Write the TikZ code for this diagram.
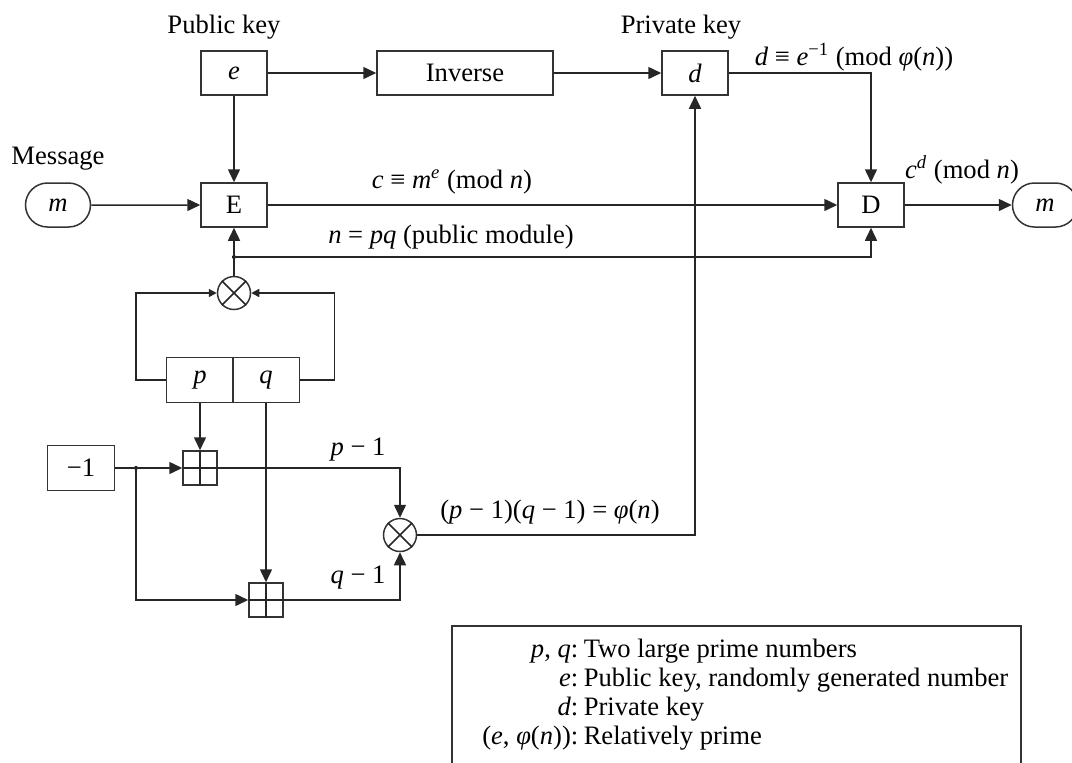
\documentclass[tikz,border=0pt]{standalone}
\usepackage{fontspec}
\setmainfont{Liberation Serif}
\usetikzlibrary{arrows.meta,shapes.misc}
\newcommand\vi[1]{\textit{#1}}

\begin{document}
\begin{tikzpicture}[x=0.5pt,y=-0.5pt,
  font=\fontsize{13.3}{16}\selectfont,
  line width=0.75pt, draw=black!85,
  every node/.style={inner sep=0pt},
  blk/.style={draw=black!80, minimum width=33pt, minimum height=22pt},
  term/.style={draw=black!80, rounded rectangle, minimum width=32.5pt, minimum height=22pt},
  mult/.style={draw=black!80, circle, minimum size=16.5pt},
  adder/.style={draw=black!80, minimum size=17pt},
  arr/.style={-{Triangle[length=6.5pt,width=6pt]}},
  sarr/.style={-{Triangle[length=4pt,width=4pt]}},
  jdot/.style={circle, fill=black, minimum size=2pt},
]
\useasboundingbox (0,0) rectangle (1072,762);

% key generation, top row
\node (pubkey) at (224,27) {Public key};
\node[blk] (e) at (234,73) {\vi{e}};
\node[blk, minimum width=88pt] (inv) at (465,73) {Inverse};
\node[blk] (d) at (695,73) {\vi{d}};
\node (privkey) at (681,27) {Private key};
\node (dlabel) at (854,57) {\vi{d} ≡ \vi{e}\textsuperscript{−1} (mod \vi{φ}(\vi{n}))};

% encryption / decryption row
\node (msg) at (58,159) {Message};
\node[term] (min) at (58,205) {\vi{m}};
\node[blk] (E) at (234,205) {E};
\node[blk] (D) at (871,205) {D};
\node[term] (mout) at (1045,205) {\vi{m}};
\node (clabel) at (452,182) {\vi{c} ≡ \vi{m}\textsuperscript{\vi{e}} (mod \vi{n})};
\node (nlabel) at (451,237) {\vi{n} = \vi{pq} (public module)};
\node (cdlabel) at (962,170) {\vi{c}\textsuperscript{\vi{d}} (mod \vi{n})};

% modulus n = pq
\node[mult] (mul1) at (234,293) {};
\draw (mul1.north east) -- (mul1.south west) (mul1.north west) -- (mul1.south east);
\node[blk, minimum width=33.5pt, minimum height=22.5pt] (p) at (200,380) {\vi{p}};
\node[blk, minimum width=33.5pt, minimum height=22.5pt] (q) at (266,380) {\vi{q}};
\coordinate (ndot) at (234,257);
\node[jdot] (ndotmark) at (ndot) {};

% phi(n) = (p-1)(q-1)
\node[blk, minimum width=33.5pt, minimum height=22.5pt] (m1) at (81,468) {−1};
\node[adder] (add1) at (200,468) {};
\draw (add1.north) -- (add1.south) (add1.west) -- (add1.east);
\node[adder] (add2) at (266,600) {};
\draw (add2.north) -- (add2.south) (add2.west) -- (add2.east);
\node[mult] (mul2) at (400,535) {};
\draw (mul2.north east) -- (mul2.south west) (mul2.north west) -- (mul2.south east);
\coordinate (jn) at (136,468);
\node[jdot] (jnmark) at (jn) {};
\node (pm1) at (358,450) {\vi{p} − 1};
\node (qm1) at (358,578) {\vi{q} − 1};
\node (philabel) at (550,512) {(\vi{p} − 1)(\vi{q} − 1) = \vi{φ}(\vi{n})};

% connectors
\draw[arr] (e) -- (inv);
\draw[arr] (inv) -- (d);
\draw[arr] (e) -- (E);
\draw[arr] (min) -- (E);
\draw[arr] (E) -- (D);
\draw[arr] (d.east) -| (D.north);
\draw[arr] (D) -- (mout);
\draw[arr] (mul1) -- (E);
\draw[arr] (ndot) -| (D.south);
\draw[sarr] (p.west) -- ++(-30,0) |- (mul1.west);
\draw[sarr] (q.east) -- ++(34,0) |- (mul1.east);
\draw[arr] (p) -- (add1);
\draw[arr] (m1.east) -- (add1.west);
\draw[arr] (jn) |- (add2.west);
\draw[arr] (q) -- (add2);
\draw[arr] (add1.east) -| (mul2.north);
\draw[arr] (add2.east) -| (mul2.south);
\draw[arr] (mul2.east) -| (d.south);

% legend
\node[draw=black!80, anchor=north west, minimum width=284.5pt, minimum height=80pt] (legend) at (451,625) {};
\node[anchor=base east] (l1a) at (579,657) {\vi{p}, \vi{q}:};
\node[anchor=base west] (l1b) at (583,657) {Two large prime numbers};
\node[anchor=base east] (l2a) at (579,686) {\vi{e}:};
\node[anchor=base west] (l2b) at (583,686) {Public key, randomly generated number};
\node[anchor=base east] (l3a) at (579,715) {\vi{d}:};
\node[anchor=base west] (l3b) at (583,715) {Private key};
\node[anchor=base east] (l4a) at (579,744) {(\vi{e}, \vi{φ}(\vi{n})):};
\node[anchor=base west] (l4b) at (583,744) {Relatively prime};
\end{tikzpicture}
\end{document}
